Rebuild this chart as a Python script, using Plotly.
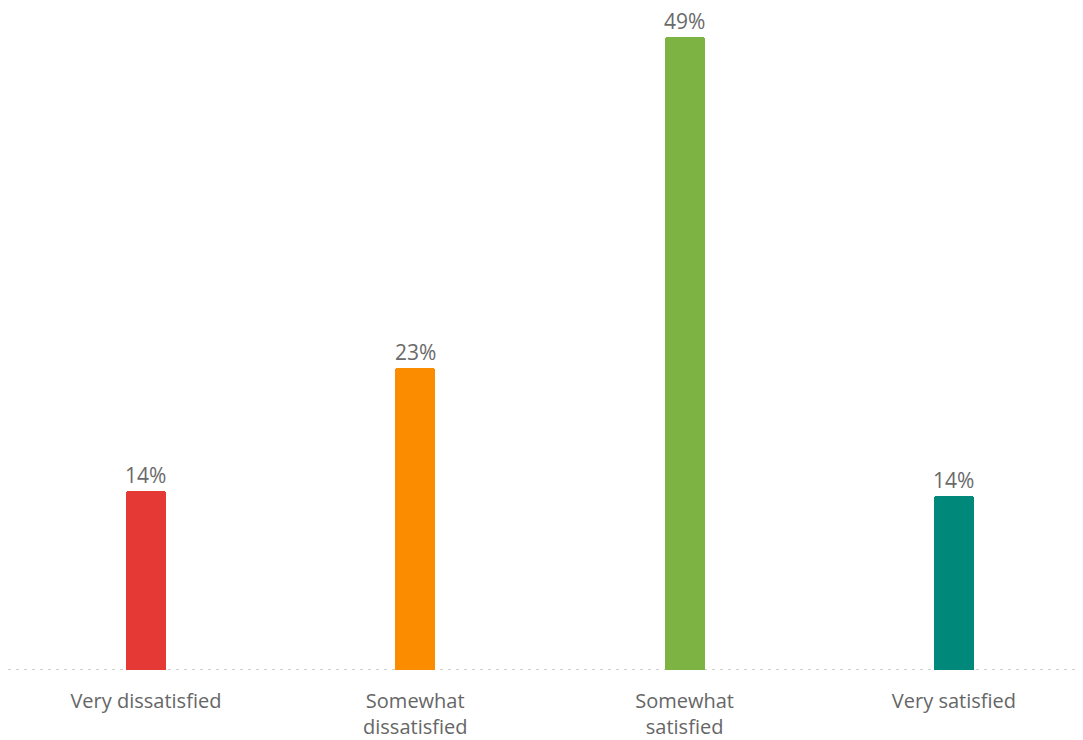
import plotly.graph_objects as go

categories = ["Very dissatisfied", "Somewhat<br>dissatisfied", "Somewhat<br>satisfied", "Very satisfied"]
values = [13.9, 23.4, 49.0, 13.5]
value_labels = ["14%", "23%", "49%", "14%"]
colors = ["#E53935", "#FB8C00", "#7CB342", "#00897B"]

x = list(range(len(categories)))

fig = go.Figure()
fig.add_trace(go.Bar(
    x=x, y=values,
    width=0.148,
    marker=dict(color=colors, cornerradius=3, line=dict(width=0)),
    hoverinfo="skip",
))

for xi, v, t in zip(x, values, value_labels):
    fig.add_annotation(x=xi, y=v, text=t, showarrow=False, yanchor="bottom",
                       yshift=1, borderpad=0,
                       font=dict(family="Open Sans", size=21, color="#6a6a6a"))

fig.add_shape(type="line", xref="paper", yref="y", x0=0.0, x1=0.993, y0=0, y1=0,
              line=dict(color="#cfcfcf", width=2, dash="3px,5px"), layer="below")

fig.update_layout(
    width=1083, height=740,
    margin=dict(l=0, r=0, t=12, b=78),
    paper_bgcolor="white", plot_bgcolor="white",
    showlegend=False,
    bargap=0,
    xaxis=dict(range=[-0.512, 3.509], tickvals=x, ticktext=categories,
               showgrid=False, zeroline=False, showline=False, ticks="",
               tickfont=dict(family="Open Sans", size=20, color="#666666"),
               ticklabelstandoff=17),
    yaxis=dict(range=[0, 50.35], visible=False, showgrid=False, zeroline=False),
)

fig.write_html("out.html")
